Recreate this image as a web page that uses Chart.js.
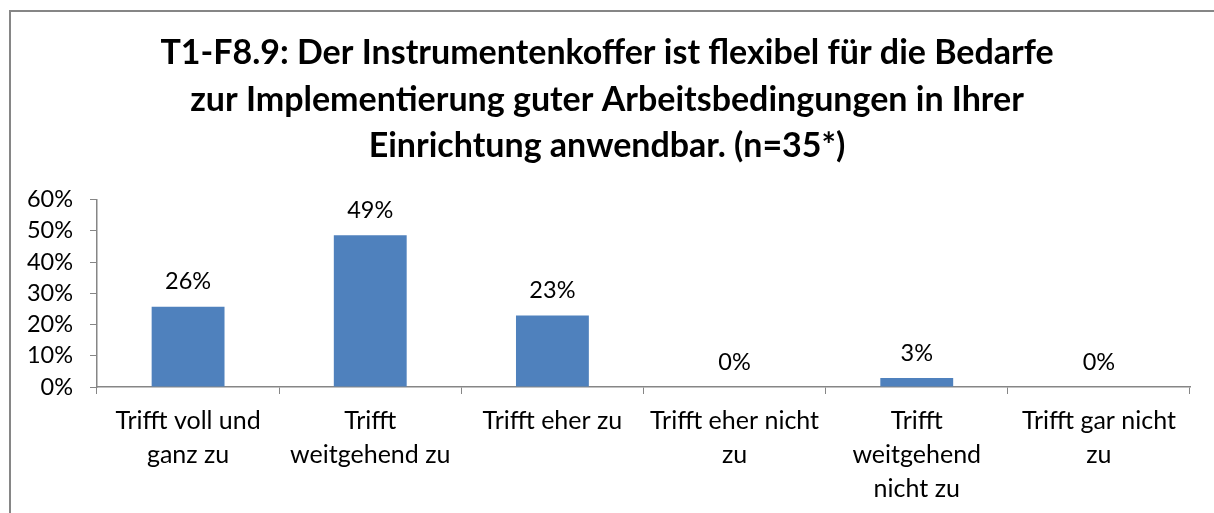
<!DOCTYPE html>
<html>
<head>
<meta charset="utf-8">
<script src="https://cdn.jsdelivr.net/npm/chart.js@4/dist/chart.umd.min.js"></script>
<style>
    html, body { margin: 0; padding: 0; background: #fff; overflow: hidden; }
    #wrap { position: relative; width: 1214px; height: 513px; }
    #frame {
        position: absolute; left: 9px; top: 10px; width: 1220px; height: 520px;
        border-top: 2px solid #868686; border-left: 2px solid #868686;
        pointer-events: none;
    }
</style>
</head>
<body>
<div id="wrap">
    <canvas id="barChart" width="1214" height="513"></canvas>
    <div id="frame"></div>
</div>
<script>
// Chart values (share of answers, n=35)
const categories = [
    ['Trifft voll und', 'ganz zu'],
    ['Trifft', 'weitgehend zu'],
    'Trifft eher zu',
    ['Trifft eher nicht', 'zu'],
    ['Trifft', 'weitgehend', 'nicht zu'],
    ['Trifft gar nicht', 'zu']
];
const shares = [25.7, 48.6, 22.9, 0, 2.9, 0];
const yTicks = [0, 10, 20, 30, 40, 50, 60];
const titleLines = [
    'T1-F8.9: Der Instrumentenkoffer ist flexibel für die Bedarfe',
    'zur Implementierung guter Arbeitsbedingungen in Ihrer',
    'Einrichtung anwendbar. (n=35*)'
];

const FONT = 'Lato, "Open Sans", sans-serif';
const AXIS_GREY = '#868686';

// Value labels above each bar
const barLabels = {
    id: 'barLabels',
    afterDatasetsDraw(chart) {
        const ctx = chart.ctx;
        const meta = chart.getDatasetMeta(0);
        ctx.save();
        ctx.font = '23.5px ' + FONT;
        ctx.fillStyle = '#000';
        ctx.textAlign = 'center';
        ctx.textBaseline = 'middle';
        meta.data.forEach((bar, i) => {
            ctx.fillText(Math.round(shares[i]) + '%', bar.x, bar.y - 25);
        });
        ctx.restore();
    }
};

const ctx = document.getElementById('barChart').getContext('2d');
new Chart(ctx, {
    type: 'bar',
    data: {
        labels: categories,
        datasets: [{
            data: shares,
            backgroundColor: '#4F81BD',
            borderWidth: 0,
            categoryPercentage: 0.4,
            barPercentage: 1.0
        }]
    },
    options: {
        responsive: false,
        animation: false,
        layout: { padding: { left: 24, right: 24, top: 8, bottom: 0 } },
        plugins: {
            legend: { display: false },
            tooltip: { enabled: false },
            title: {
                display: true,
                text: titleLines,
                color: '#000',
                font: { family: FONT, size: 34, weight: 'bold', lineHeight: '46.5px' },
                padding: { top: 22, bottom: 30 }
            }
        },
        scales: {
            x: {
                grid: {
                    display: true,
                    drawOnChartArea: false,
                    drawTicks: true,
                    tickLength: 7,
                    color: AXIS_GREY,
                    offset: true
                },
                border: { color: AXIS_GREY, width: 1.5 },
                ticks: {
                    color: '#000',
                    font: { family: FONT, size: 25, lineHeight: '34px' },
                    padding: 10,
                    maxRotation: 0,
                    autoSkip: false
                },
                afterFit(scale) { scale.height = 126; }
            },
            y: {
                min: 0,
                max: 60,
                afterBuildTicks(scale) {
                    scale.ticks = yTicks.map(v => ({ value: v }));
                },
                grid: {
                    display: true,
                    drawOnChartArea: false,
                    drawTicks: true,
                    tickLength: 7,
                    color: AXIS_GREY
                },
                border: { color: AXIS_GREY, width: 1.5 },
                ticks: {
                    color: '#000',
                    font: { family: FONT, size: 23.5 },
                    padding: 17,
                    callback: v => v + '%'
                },
                afterFit(scale) { scale.width = 73; }
            }
        }
    },
    plugins: [barLabels]
});
</script>
</body>
</html>
